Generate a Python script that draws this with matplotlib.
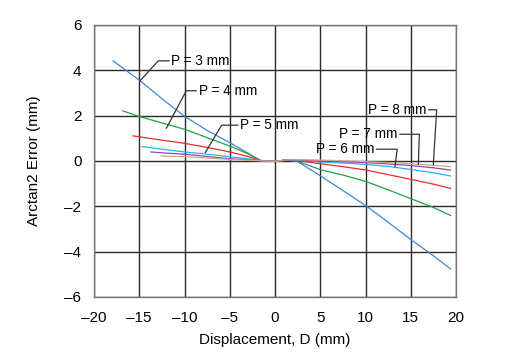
import matplotlib
matplotlib.use("Agg")
import matplotlib.pyplot as plt

plt.rcParams['font.family'] = ['Liberation Sans', 'DejaVu Sans']

# displacement D (mm) vs arctan2 error (mm)
d_p3 = [-17.9, -14.9, -12.5, -10.1, -7.5, -5.0, -3.0, -1.6, 0.0, 1.2, 2.4, 5.0, 7.5, 10.1, 12.5, 15.0, 17.5, 19.4]
e_p3 = [4.42, 3.54, 2.75, 2.00, 1.35, 0.81, 0.35, 0.02, -0.02, 0.04, 0.0, -0.65, -1.30, -1.99, -2.70, -3.46, -4.18, -4.76]

d_p4 = [-16.8, -15.3, -12.5, -10.0, -7.5, -5.0, -3.0, -1.6, 0.0, 1.2, 2.4, 5.0, 7.5, 10.1, 12.5, 15.0, 17.5, 19.4]
e_p4 = [2.21, 2.00, 1.68, 1.40, 1.03, 0.66, 0.32, 0.03, -0.02, 0.04, 0.0, -0.38, -0.62, -0.91, -1.27, -1.66, -2.05, -2.40]

d_p5 = [-15.7, -12.5, -10.0, -7.5, -5.0, -3.0, -1.6, 0.0, 1.2, 2.4, 5.0, 7.5, 10.1, 12.5, 15.0, 17.5, 19.4]
e_p5 = [1.11, 0.92, 0.78, 0.60, 0.40, 0.20, 0.02, -0.02, 0.04, 0.02, -0.12, -0.25, -0.40, -0.60, -0.81, -1.02, -1.21]

d_p6 = [-14.7, -12.5, -10.0, -7.5, -5.0, -3.0, -1.6, 0.0, 1.2, 2.4, 5.0, 7.5, 10.1, 12.5, 15.0, 17.5, 19.4]
e_p6 = [0.64, 0.52, 0.40, 0.30, 0.19, 0.10, 0.02, -0.02, 0.05, 0.04, -0.04, -0.09, -0.15, -0.24, -0.37, -0.52, -0.66]

d_p7 = [-13.7, -12.5, -10.0, -7.5, -5.0, -3.0, -1.6, 0.0, 1.2, 2.4, 5.0, 7.5, 10.1, 12.5, 15.0, 17.5, 19.4]
e_p7 = [0.40, 0.36, 0.30, 0.20, 0.10, 0.05, 0.01, -0.02, 0.05, 0.05, 0.01, -0.03, -0.07, -0.13, -0.20, -0.30, -0.40]

d_p8 = [-12.6, -10.0, -7.5, -5.0, -3.0, -1.6, 0.0, 1.2, 2.4, 5.0, 7.5, 10.1, 12.5, 15.0, 17.5, 19.4]
e_p8 = [0.22, 0.19, 0.13, 0.07, 0.03, 0.01, -0.02, 0.05, 0.06, 0.04, 0.01, -0.03, -0.07, -0.12, -0.19, -0.25]

curves = [(d_p3, e_p3, '#3f88d6'), (d_p4, e_p4, '#1fa24a'), (d_p5, e_p5, '#ee2b2b'),
          (d_p6, e_p6, '#22b5ec'), (d_p7, e_p7, '#9e3fae'), (d_p8, e_p8, '#c8aa88')]

labels = ['P = 3 mm', 'P = 4 mm', 'P = 5 mm', 'P = 6 mm', 'P = 7 mm', 'P = 8 mm']
# leader: point on curve, elbow, text anchor
leaders = [
    ((-14.9, 3.54), (-12.9, 4.42), (-11.7, 4.42), 'left'),
    ((-12.0, 1.45), (-9.8, 3.1), (-8.7, 3.1), 'left'),
    ((-7.7, 0.37), (-5.9, 1.58), (-4.1, 1.58), 'left'),
    ((13.26, -0.25), (13.5, 0.52), (11.2, 0.52), 'right'),
    ((15.84, -0.15), (15.95, 1.18), (13.8, 1.18), 'right'),
    ((17.49, -0.15), (17.87, 2.26), (17.0, 2.26), 'right'),
]

xticks = [-20, -15, -10, -5, 0, 5, 10, 15, 20]
yticks = [-6, -4, -2, 0, 2, 4, 6]

fig = plt.figure(figsize=(5.24, 3.52), dpi=100)
ax = fig.add_axes([94/524, 1 - 297/352, 362/524, 272/352])

for d, e, c in curves:
    ax.plot(d, e, color=c, lw=0.9)

for (cp, elbow, tp, side), lab in zip(leaders, labels):
    ax.plot([cp[0], elbow[0], tp[0]], [cp[1], elbow[1], tp[1]], color='#333333', lw=0.9)
    if side == 'left':
        ax.text(tp[0] + 0.25, tp[1], lab, ha='left', va='center', fontsize=9.8)
    else:
        ax.text(tp[0] - 0.25, tp[1], lab, ha='right', va='center', fontsize=9.8)

ax.set_xlim(-20, 20)
ax.set_ylim(-6, 6)
ax.set_xticks(xticks)
ax.set_xticklabels([str(v).replace('-', '\u2013') for v in xticks], fontsize=11)
ax.set_yticks(yticks)
ax.set_yticklabels([str(v).replace('-', '\u2013') for v in yticks], fontsize=11)
ax.tick_params(axis='both', length=0)
ax.tick_params(axis='x', pad=10)
ax.tick_params(axis='y', pad=9)
ax.grid(True, color='#2a2a2a', lw=1.0)
ax.set_axisbelow(True)
for s in ax.spines.values():
    s.set_color('#777777')
    s.set_linewidth(1.0)

ax.set_xlabel('Displacement, D (mm)', fontsize=11, labelpad=6)
ax.set_ylabel('Arctan2 Error (mm)', fontsize=11, labelpad=17)

fig.savefig('out.png', dpi=100)
